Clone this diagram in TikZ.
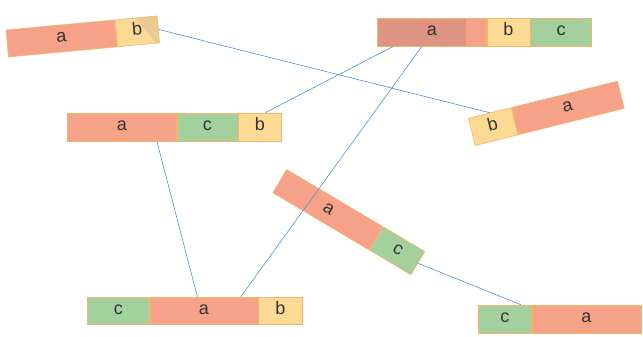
\documentclass[tikz,border=0pt]{standalone}
\usepackage{fontspec}
\setmainfont{Liberation Sans}
\usetikzlibrary{
  calc,%
  positioning
}
\definecolor{segred}{HTML}{F5A288}
\definecolor{segreddark}{HTML}{DE9482}
\definecolor{segyellow}{HTML}{FDDA94}
\definecolor{segtan}{HTML}{EBCB92}
\definecolor{seggreen}{HTML}{A3D09C}
\definecolor{segedge}{HTML}{EFB66C}
\definecolor{linkblue}{HTML}{5092D2}
\tikzset{seg/.style={draw=segedge, line width=0.6pt, minimum height=27pt,
    inner sep=0pt, anchor=west, text=black!80, text height=1.55ex, text depth=0.2ex,
    font=\fontsize{18}{20}\selectfont}}
\tikzset{sega/.style={seg, fill=segred},
  segb/.style={seg, fill=segyellow},
  segc/.style={seg, fill=seggreen}}
\tikzset{link/.style={draw=linkblue, line width=0.6pt}}

\begin{document}
\begin{tikzpicture}[x=1pt, y=1pt]
  \useasboundingbox (0,0) rectangle (643,337); %
  % top left, tilted
  \node[sega, minimum width=109pt, rotate=5.3] (s1a) at (7,293.5) {a}; %
  \node[segb, minimum width=42pt, rotate=5.3, right=0pt of s1a,
    path picture={\fill[segtan] ($(path picture bounding box.north west)!0.4!(path picture bounding box.north east)$)
      -- (path picture bounding box.north east) -- (path picture bounding box.south east) -- cycle;}] (s1b) {b}; %
  % top right
  \node[sega, minimum width=109pt, minimum height=28pt,
    path picture={\fill[segreddark] (path picture bounding box.south west) rectangle ([xshift=-20pt]path picture bounding box.north east);}] (s2a) at (377,305) {a}; %
  \node[segb, minimum width=43pt, minimum height=28pt, right=0pt of s2a] (s2b) {b}; %
  \node[segc, minimum width=61pt, minimum height=28pt, right=0pt of s2b] (s2c) {c}; %
  % right, tilted
  \node[segb, minimum width=44pt, minimum height=28pt, rotate=14] (s3b) at (471.5,205) {b}; %
  \node[sega, minimum width=109pt, minimum height=28pt, rotate=14, right=0pt of s3b] (s3a) {a}; %
  % middle left
  \node[sega, minimum width=109pt, minimum height=28pt] (s4a) at (67,210) {a}; %
  \node[segc, minimum width=61pt, minimum height=28pt, right=0pt of s4a] (s4c) {c}; %
  \node[segb, minimum width=43pt, minimum height=28pt, right=0pt of s4c] (s4b) {b}; %
  % centre, tilted
  \node[sega, minimum width=112pt, rotate=-30.7] (s5a) at (279.5,156) {a}; %
  \node[segc, minimum width=48pt, rotate=-30.7, right=0pt of s5a] (s5c) {c}; %
  % bottom
  \node[segc, minimum width=62pt] (s6c) at (87,26.5) {c}; %
  \node[sega, minimum width=108pt, right=0pt of s6c] (s6a) {a}; %
  \node[segb, minimum width=44pt, right=0pt of s6a] (s6b) {b}; %
  % bottom right
  \node[segc, minimum width=53pt, minimum height=28pt] (s7c) at (478,18) {c}; %
  \node[sega, minimum width=109pt, minimum height=28pt, right=0pt of s7c] (s7a) {a}; %
  % links
  \draw[link] (s1b.east) -- (s3b.north); %
  \draw[link] ($(s2a.south west)!0.15!(s2a.south east)$) -- ($(s4b.north west)!0.62!(s4b.north east)$); %
  \draw[link] ($(s2a.south west)!0.41!(s2a.south east)$) -- ($(s6a.north west)!0.84!(s6a.north east)$); %
  \draw[link] ($(s4a.south west)!0.82!(s4a.south east)$) -- ($(s6a.north west)!0.44!(s6a.north east)$); %
  \draw[link] (s5c.east) -- ($(s7c.north west)!0.8!(s7c.north east)$); %
\end{tikzpicture}
\end{document}
